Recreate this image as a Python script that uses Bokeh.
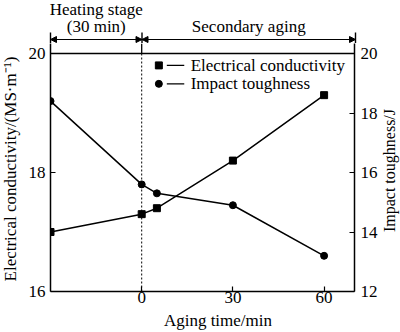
import math
from bokeh.plotting import figure
from bokeh.layouts import column, row
from bokeh.models import Range1d, LinearAxis, FixedTicker, Span, Arrow, NormalHead
from bokeh.embed import file_html
from bokeh.resources import INLINE
from bokeh.core.properties import value

# ---- data ----
time = [-30, 0, 5, 30, 60]
conductivity = [17.0, 17.3, 17.4, 18.2, 19.3]
toughness = [18.4, 15.6, 15.3, 14.9, 13.2]
x_ticks = [0, 30, 60]
left_ticks = [16, 18, 20]
right_ticks = [12, 14, 16, 18, 20]
stage_bounds = [-30, 0, 70]
stage_line1 = ["Heating stage", ""]
stage_line2 = ["(30 min)", "Secondary aging"]
legend_labels = ["Electrical conductivity", "Impact toughness"]
x_title = "Aging time/min"
y_title_left = "Electrical conductivity/(MS\u00b7m\u207b\u00b9)"
y_title_right = "Impact toughness/J"

FONT = "Liberation Serif"
W = 400
LEFT_W, RIGHT_W = 22, 20          # side strips holding the y titles
LEFT_B, RIGHT_B = 28, 25          # main-plot borders (tick labels)
TOP_H, BOT_H = 43, 22
FRAME_W, CORE_H, EXTRA_TOP = 305, 238, 10
MAIN_BOT = 19
MAIN_W = LEFT_B + FRAME_W + RIGHT_B
MAIN_H = CORE_H + EXTRA_TOP + MAIN_BOT
X0, X1 = -30, 70
YL0, YL1 = 16, 20
YR0, YR1 = 12, 20
px_per_unit = FRAME_W / (X1 - X0)
full_left = LEFT_W + LEFT_B
full_right = W - full_left - FRAME_W
strip_x = Range1d(X0 - full_left / px_per_unit, X1 + full_right / px_per_unit)
yl_top = YL1 + EXTRA_TOP * (YL1 - YL0) / CORE_H
yr_top = YR1 + EXTRA_TOP * (YR1 - YR0) / CORE_H

# ---------------- main plot ----------------
p = figure(width=MAIN_W, height=MAIN_H, x_range=Range1d(X0, X1), y_range=Range1d(YL0, yl_top),
           output_backend="svg", toolbar_location=None, frame_align=False, title=None,
           min_border_left=LEFT_B, min_border_right=RIGHT_B,
           min_border_top=0, min_border_bottom=MAIN_BOT, margin=0)
p.extra_y_ranges = {"r": Range1d(YR0, yr_top)}
p.background_fill_color = "white"
p.border_fill_color = "white"
p.outline_line_color = None
p.grid.visible = False

def style_axis(ax, ticks):
    ax.ticker = FixedTicker(ticks=ticks)
    ax.minor_tick_line_color = None
    ax.major_tick_in = 5
    ax.major_tick_out = 0
    ax.major_tick_line_color = "black"
    ax.major_tick_line_width = 1.2
    ax.axis_line_color = "black"
    ax.axis_line_width = 1.5
    ax.major_label_text_font = FONT
    ax.major_label_text_font_size = "17px"
    ax.major_label_text_color = "black"

style_axis(p.xaxis[0], x_ticks)
p.xaxis.major_label_standoff = 0
style_axis(p.yaxis[0], left_ticks)
p.yaxis.major_label_standoff = 5

ra = LinearAxis(y_range_name="r")
style_axis(ra, right_ticks)
ra.major_label_standoff = 6
p.add_layout(ra, "right")

# top edge of the plotting box at y = 20
p.add_layout(Span(location=YL1, dimension="width", line_color="black", line_width=1.5))
# divider at t = 0: dotted inside the box, solid above it
p.segment(x0=[stage_bounds[1]], y0=[YL0], x1=[stage_bounds[1]], y1=[YL1],
          line_color="black", line_width=1, line_dash="2 2")
p.segment(x0=[stage_bounds[1]], y0=[YL1], x1=[stage_bounds[1]], y1=[yl_top],
          line_color="black", line_width=1.3)

# data series
p.line(time, conductivity, line_color="black", line_width=1.5)
p.scatter(time, conductivity, marker="square", size=7, color="black")
p.line(time, toughness, line_color="black", line_width=1.5, y_range_name="r")
p.scatter(time, toughness, marker="circle", size=7, color="black", y_range_name="r")

# legend (marker, dash, text)
leg_marker_x = 5.64
leg_dash = (8.26, 14.0)
leg_text_x = 16.1
leg_rows = [(19.80, "square"), (19.49, "circle")]
for (ym, mk), lab in zip(leg_rows, legend_labels):
    p.scatter([leg_marker_x], [ym], marker=mk, size=7, color="black")
    p.segment(x0=[leg_dash[0]], y0=[ym], x1=[leg_dash[1]], y1=[ym], line_color="black", line_width=1.2)
    p.text(x=[leg_text_x], y=[ym], text=[lab], text_font=value(FONT), text_font_size="17px",
           text_baseline="middle", text_color="black")

# ---------------- helper strips ----------------
def strip(w, h, xr=None):
    s = figure(width=w, height=h, x_range=xr if xr is not None else Range1d(0, w),
               y_range=Range1d(h, 0), output_backend="svg", toolbar_location=None, title=None,
               x_axis_type=None, y_axis_type=None, min_border=0,
               min_border_left=0, min_border_right=0, min_border_top=0, min_border_bottom=0,
               frame_align=False, margin=0)
    s.outline_line_color = None
    s.grid.visible = False
    s.background_fill_color = "white"
    s.border_fill_color = "white"
    return s

# top strip: stage annotations
top = strip(W, TOP_H, strip_x)
Y_ARROW = 39
Y_BAR_TOP = 32
for i in range(2):
    a, b = stage_bounds[i], stage_bounds[i + 1]
    top.add_layout(Arrow(x_start=a, y_start=Y_ARROW, x_end=b, y_end=Y_ARROW,
                         line_color="black", line_width=1.2,
                         start=NormalHead(size=6, fill_color="black", line_color="black", line_width=1),
                         end=NormalHead(size=6, fill_color="black", line_color="black", line_width=1)))
    mid = (a + b) / 2
    if stage_line1[i]:
        top.text(x=[mid], y=[8.5], text=[stage_line1[i]], text_align="center",
                 text_baseline="middle", text_font=value(FONT),
                 text_font_size="17px", text_color="black")
    top.text(x=[mid], y=[26.3], text=[stage_line2[i]], text_align="center",
             text_baseline="middle", text_font=value(FONT),
             text_font_size="17px", text_color="black")
top.segment(x0=stage_bounds, y0=[Y_BAR_TOP] * 3, x1=stage_bounds, y1=[TOP_H] * 3,
            line_color="black", line_width=1.4)

# side strips: y titles (reading bottom to top)
lft = strip(LEFT_W, MAIN_H)
lft.text(x=[10], y=[125.5], text=[y_title_left], angle=math.pi / 2,
         text_align="center", text_baseline="middle", text_font=value(FONT),
         text_font_size="17px", text_color="black")
rgt = strip(RIGHT_W, MAIN_H)
rgt.text(x=[RIGHT_W - 11], y=[127], text=[y_title_right], angle=math.pi / 2,
         text_align="center", text_baseline="middle", text_font=value(FONT),
         text_font_size="16px", text_color="black")

# bottom strip: x axis title
bot = strip(W, BOT_H, strip_x)
bot.text(x=[24.9], y=[9.5], text=[x_title], text_align="center", text_baseline="middle",
         text_font=value(FONT), text_font_size="17px", text_color="black")

layout = column(top, row(lft, p, rgt, spacing=0, margin=0), bot, spacing=0, margin=0)
open("out.html", "w").write(file_html(layout, INLINE))
